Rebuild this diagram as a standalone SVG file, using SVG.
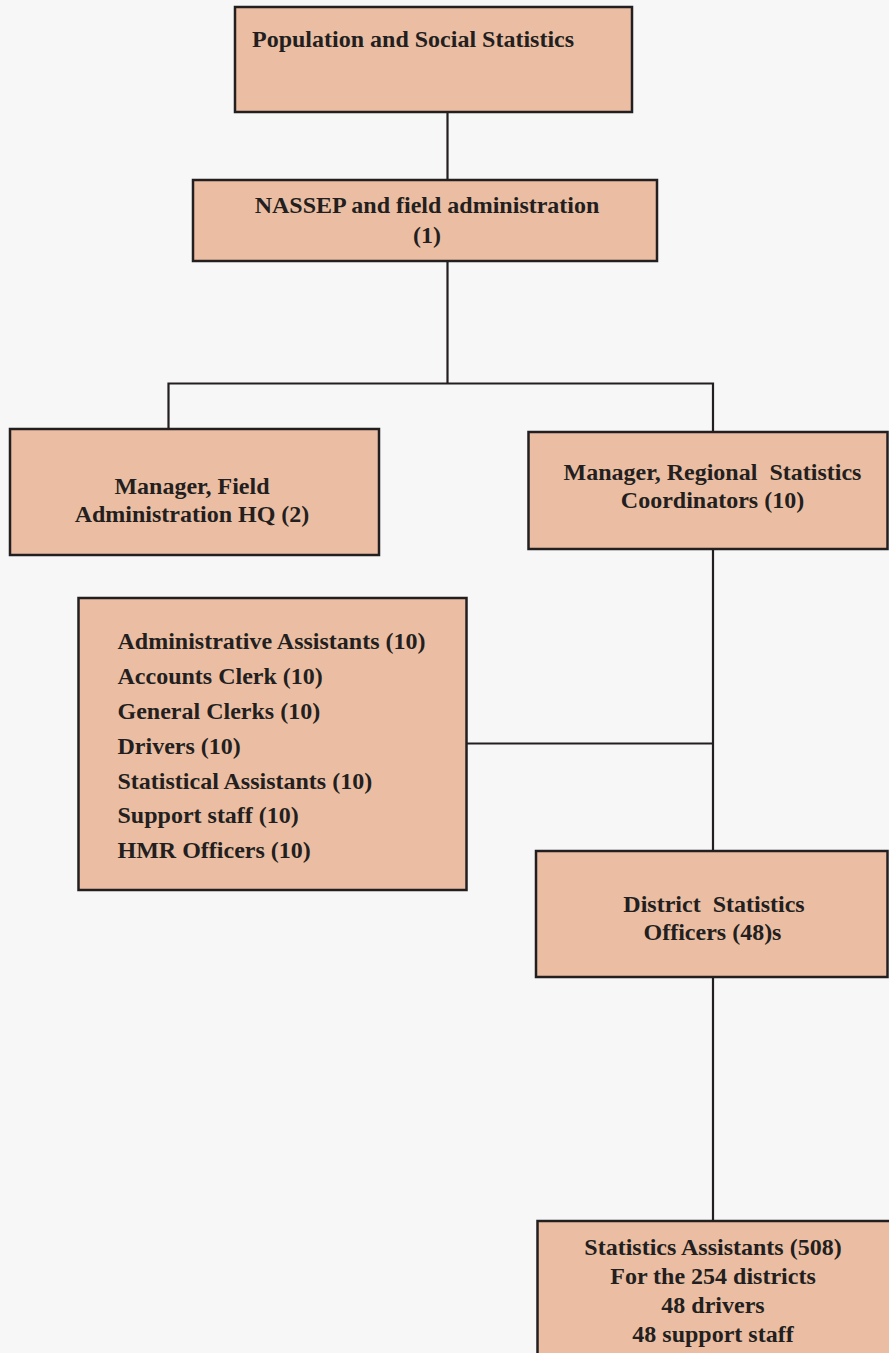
<svg xmlns="http://www.w3.org/2000/svg" width="889" height="1353" viewBox="0 0 889 1353">
  <style>
    .box { fill: #EBBEA3; stroke: #231F20; stroke-width: 2.5; }
    .lbl { font-family: "Liberation Serif", "Times New Roman", serif; font-weight: bold; font-size: 24px; fill: #231F20; }
    .mid { text-anchor: middle; }
    .conn { fill: none; stroke: #231F20; stroke-width: 2.2; }
  </style>
  <rect x="0" y="0" width="889" height="1353" fill="#F7F7F7"/>

  <g id="connectors">
    <line class="conn" x1="447.5" y1="112" x2="447.5" y2="181"/>
    <line class="conn" x1="447.5" y1="261" x2="447.5" y2="383.5"/>
    <polyline class="conn" points="168.5,429 168.5,383.5 713,383.5 713,431"/>
    <line class="conn" x1="713" y1="549" x2="713" y2="851"/>
    <line class="conn" x1="467" y1="743.5" x2="713" y2="743.5"/>
    <line class="conn" x1="713" y1="977" x2="713" y2="1221"/>
  </g>

  <g id="node-population">
    <rect class="box" x="235" y="7" width="397" height="105"/>
    <text class="lbl" x="252" y="47">Population and Social Statistics</text>
  </g>

  <g id="node-nassep">
    <rect class="box" x="193" y="180" width="464" height="81"/>
    <text class="lbl mid" x="427" y="213">NASSEP and field administration</text>
    <text class="lbl mid" x="427" y="243">(1)</text>
  </g>

  <g id="node-manager-field">
    <rect class="box" x="10" y="429" width="369" height="126"/>
    <text class="lbl mid" x="192" y="494">Manager, Field</text>
    <text class="lbl mid" x="192" y="522">Administration HQ (2)</text>
  </g>

  <g id="node-manager-regional">
    <rect class="box" x="528.5" y="432" width="359" height="117"/>
    <text class="lbl mid" x="712.5" y="480" xml:space="preserve">Manager, Regional  Statistics</text>
    <text class="lbl mid" x="712.5" y="508">Coordinators (10)</text>
  </g>

  <g id="node-staff-list">
    <rect class="box" x="78.5" y="598" width="388" height="292"/>
    <text class="lbl" x="117.5" y="649">Administrative Assistants (10)</text>
    <text class="lbl" x="117.5" y="684">Accounts Clerk (10)</text>
    <text class="lbl" x="117.5" y="719">General Clerks (10)</text>
    <text class="lbl" x="117.5" y="753.5">Drivers (10)</text>
    <text class="lbl" x="117.5" y="788.5">Statistical Assistants (10)</text>
    <text class="lbl" x="117.5" y="823">Support staff (10)</text>
    <text class="lbl" x="117.5" y="857.5">HMR Officers (10)</text>
  </g>

  <g id="node-district">
    <rect class="box" x="536" y="851" width="351.5" height="126"/>
    <text class="lbl mid" x="714" y="912" xml:space="preserve">District  Statistics</text>
    <text class="lbl mid" x="712.5" y="940">Officers (48)s</text>
  </g>

  <g id="node-statistics-assistants">
    <rect class="box" x="537.5" y="1221" width="360" height="150"/>
    <text class="lbl mid" x="713" y="1255">Statistics Assistants (508)</text>
    <text class="lbl mid" x="713" y="1283.5">For the 254 districts</text>
    <text class="lbl mid" x="713" y="1312.5">48 drivers</text>
    <text class="lbl mid" x="713" y="1341.5">48 support staff</text>
  </g>
</svg>
